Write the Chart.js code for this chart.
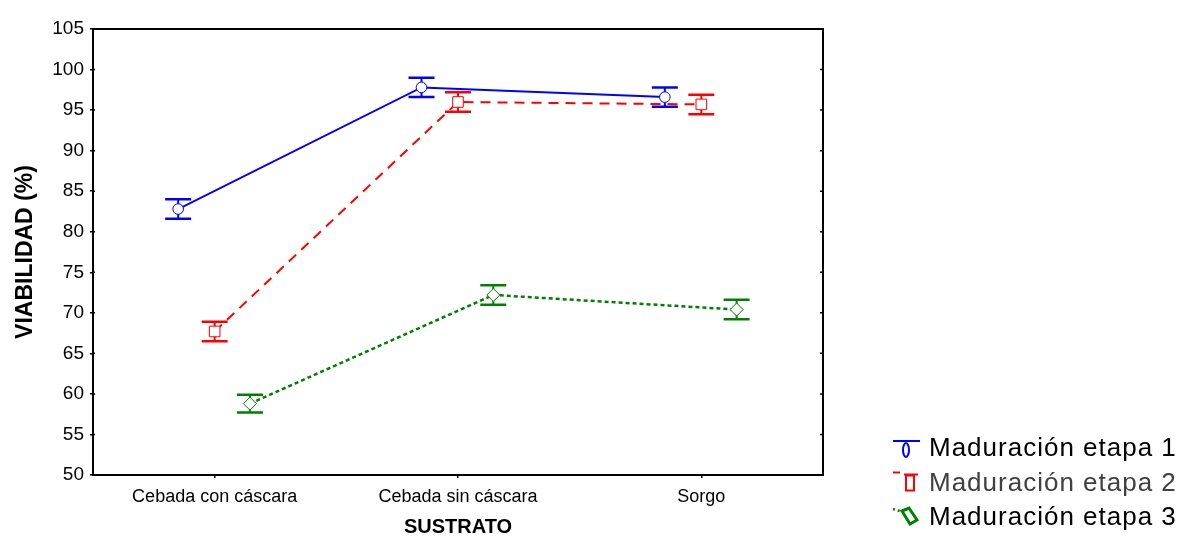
<!DOCTYPE html>
<html>
<head>
<meta charset="utf-8">
<script src="https://cdn.jsdelivr.net/npm/chart.js@4.4.0/dist/chart.umd.min.js"></script>
<style>
  html, body { margin: 0; padding: 0; background: #fff; }
  #wrap { width: 1182px; height: 536px; }
</style>
</head>
<body>
<div id="wrap"><canvas id="c" width="1182" height="536"></canvas></div>
<script>
// data
const categories = ['Cebada con cáscara', 'Cebada sin cáscara', 'Sorgo'];
const seriesNames = ['Maduración etapa 1', 'Maduración etapa 2', 'Maduración etapa 3'];
const etapa1 = [82.8, 97.8, 96.6];
const etapa2 = [67.7, 96.0, 95.7];
const etapa3 = [58.8, 72.2, 70.4];
const err1 = [1.2, 1.2, 1.2];
const err2 = [1.2, 1.2, 1.2];
const err3 = [1.1, 1.2, 1.2];

const colors = ['#0000ff', '#ff0000', '#008000'];
const dodge = [-0.15, 0, 0.145];
const font = "'Liberation Sans', Arial, sans-serif";

function pts(vals, k) {
    return vals.map((v, i) => ({ x: i + dodge[k], y: v }));
}

// error bars, drawn under the markers
const errorBars = {
    id: 'errorBars',
    beforeDatasetsDraw(chart) {
        const ctx = chart.ctx;
        const xs = chart.scales.x, ys = chart.scales.y;
        chart.data.datasets.forEach(ds => {
            ctx.save();
            ctx.strokeStyle = ds.borderColor;
            ds.data.forEach((p, i) => {
                const x = xs.getPixelForValue(p.x);
                const y1 = ys.getPixelForValue(p.y + ds.errors[i]);
                const y2 = ys.getPixelForValue(p.y - ds.errors[i]);
                ctx.lineWidth = 2;
                ctx.beginPath();
                ctx.moveTo(x, y1); ctx.lineTo(x, y2);
                ctx.stroke();
                ctx.lineWidth = 2.5;
                ctx.beginPath();
                ctx.moveTo(x - 13, y1); ctx.lineTo(x + 13, y1);
                ctx.moveTo(x - 13, y2); ctx.lineTo(x + 13, y2);
                ctx.stroke();
            });
            ctx.restore();
        });
    }
};

// box round the plot and the small ticks on the right side
const frame = {
    id: 'frame',
    afterDraw(chart) {
        const ctx = chart.ctx, a = chart.chartArea;
        const ys = chart.scales.y;
        ctx.save();
        ctx.strokeStyle = '#000';
        ctx.lineWidth = 2;
        ctx.strokeRect(a.left, a.top, a.right - a.left, a.bottom - a.top);
        ctx.lineWidth = 1.5;
        ys.ticks.forEach(t => {
            const y = ys.getPixelForValue(t.value);
            ctx.beginPath();
            ctx.moveTo(a.right - 3, y); ctx.lineTo(a.right, y);
            ctx.moveTo(a.left, y); ctx.lineTo(a.left + 2, y);
            ctx.stroke();
        });
        ctx.restore();
    }
};

// legend at the bottom right
const sideLegend = {
    id: 'sideLegend',
    afterDraw(chart) {
        const ctx = chart.ctx;
        const textColors = ['#000', '#404040', '#000'];
        ctx.save();
        chart.data.datasets.forEach((ds, k) => {
            const cy = 449 + k * 34.5;
            const gx = 906;
            ctx.strokeStyle = ds.borderColor;
            ctx.fillStyle = '#fff';
            if (k === 0) {
                ctx.lineWidth = 2;
                ctx.beginPath(); ctx.moveTo(893, cy - 8); ctx.lineTo(920, cy - 8); ctx.stroke();
                ctx.beginPath(); ctx.ellipse(gx, cy + 1, 3, 7, 0, 0, Math.PI * 2); ctx.stroke();
            } else if (k === 1) {
                ctx.lineWidth = 2;
                ctx.beginPath(); ctx.moveTo(893, cy - 11); ctx.lineTo(900, cy - 11); ctx.stroke();
                ctx.beginPath(); ctx.moveTo(904, cy - 9); ctx.lineTo(918, cy - 9); ctx.stroke();
                ctx.strokeRect(906, cy - 8, 8, 15);
            } else {
                ctx.lineWidth = 2.5;
                ctx.setLineDash([2, 3]);
                ctx.beginPath(); ctx.moveTo(893, cy - 9); ctx.lineTo(903, cy - 6); ctx.stroke();
                ctx.setLineDash([]);
                ctx.lineWidth = 3;
                ctx.beginPath();
                ctx.moveTo(902, cy - 7); ctx.lineTo(909, cy - 10);
                ctx.lineTo(917, cy + 2); ctx.lineTo(910, cy + 6);
                ctx.closePath(); ctx.stroke();
            }
            ctx.fillStyle = textColors[k];
            ctx.font = '26px ' + font;
            ctx.letterSpacing = '1px';
            ctx.textBaseline = 'middle';
            ctx.textAlign = 'left';
            ctx.fillText(seriesNames[k], 929, cy);
            ctx.letterSpacing = '0px';
        });
        ctx.restore();
    }
};

const styles = [
    { dash: [], width: 2, point: 'circle', r: 5.3 },
    { dash: [10, 7], width: 2, point: 'rect', r: 7.5 },
    { dash: [4, 3], width: 2.5, point: 'rectRot', r: 6.5 }
];
const allVals = [etapa1, etapa2, etapa3];
const allErr = [err1, err2, err3];

const datasets = allVals.map((vals, k) => ({
    label: seriesNames[k],
    data: pts(vals, k),
    errors: allErr[k],
    borderColor: colors[k],
    borderWidth: styles[k].width,
    borderDash: styles[k].dash,
    pointStyle: styles[k].point,
    pointRadius: styles[k].r,
    pointBorderWidth: 1,
    pointBackgroundColor: '#fff',
    pointBorderColor: colors[k],
    fill: false,
    tension: 0
}));

new Chart(document.getElementById('c'), {
    type: 'line',
    data: { datasets: datasets },
    plugins: [errorBars, frame, sideLegend],
    options: {
        responsive: false,
        animation: false,
        layout: { padding: { left: 0, right: 359, top: 29, bottom: 0 } },
        plugins: {
            legend: { display: false },
            tooltip: { enabled: false }
        },
        scales: {
            x: {
                type: 'linear',
                min: -0.5,
                max: 2.5,
                afterBuildTicks: s => { s.ticks = categories.map((c, i) => ({ value: i })); },
                afterFit: s => { s.height = 61; },
                ticks: {
                    callback: v => categories[v],
                    color: '#000',
                    font: { family: font, size: 18 },
                    padding: 8,
                    maxRotation: 0
                },
                grid: { drawOnChartArea: false, tickLength: 3, color: '#000', lineWidth: 1.5 },
                border: { display: false },
                title: {
                    display: true,
                    text: 'SUSTRATO',
                    color: '#000',
                    font: { family: font, size: 20, weight: 'bold' },
                    padding: { top: 0, bottom: -3 }
                }
            },
            y: {
                min: 50,
                max: 105,
                afterFit: s => { s.width = 93; },
                ticks: {
                    stepSize: 5,
                    color: '#000',
                    font: { family: font, size: 19 },
                    padding: 6
                },
                grid: { drawOnChartArea: false, tickLength: 3, color: '#000', lineWidth: 1.5 },
                border: { display: false },
                title: {
                    display: true,
                    text: 'VIABILIDAD (%)',
                    color: '#000',
                    font: { family: font, size: 23, weight: 'bold' },
                    padding: { top: 12, bottom: 0 }
                }
            }
        }
    }
});
</script>
</body>
</html>
